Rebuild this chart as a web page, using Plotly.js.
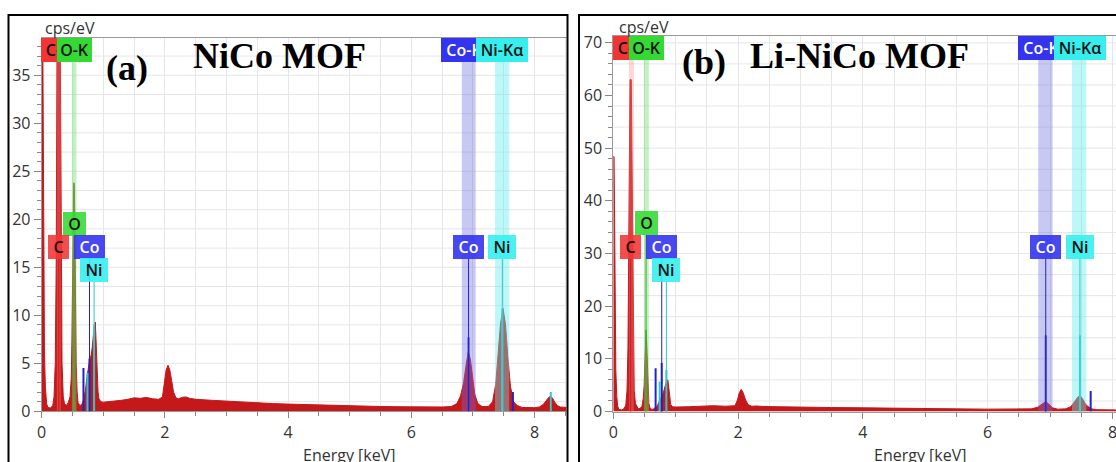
<!DOCTYPE html>
<html><head><meta charset="utf-8">
<script src="https://cdn.plot.ly/plotly-3.0.1.min.js"></script>
<style>html,body{margin:0;padding:0;background:#fff;overflow:hidden}#chart{width:1116px;height:462px}</style>
</head><body><div id="chart"></div>
<script>
// ---------------- DATA ----------------
// Panel (a) NiCo MOF spectrum: energy (keV) and intensity (cps/eV)
const aEnergy = [0,0.01,0.02,0.03,0.045,0.06,0.08,0.1,0.14,0.18,0.2,0.22,0.235,0.25,0.27,0.285,0.3,0.315,0.33,0.35,0.37,0.4,0.43,0.46,0.48,0.49,0.5,0.51,0.52,0.53,0.54,0.55,0.56,0.575,0.59,0.62,0.65,0.68,0.71,0.74,0.76,0.78,0.8,0.82,0.84,0.855,0.87,0.885,0.9,0.915,0.93,0.96,1.0,1.1,1.2,1.3,1.4,1.5,1.6,1.7,1.8,1.9,1.96,1.99,2.02,2.05,2.08,2.11,2.14,2.18,2.22,2.28,2.34,2.4,2.5,2.75,3.0,3.25,3.5,3.75,4.0,4.25,4.5,4.75,5.0,5.25,5.5,5.75,6.0,6.25,6.5,6.65,6.74,6.8,6.85,6.89,6.925,6.96,6.99,7.03,7.08,7.15,7.25,7.32,7.37,7.41,7.45,7.49,7.53,7.57,7.61,7.66,7.72,7.8,7.9,8.0,8.08,8.14,8.19,8.23,8.26,8.29,8.33,8.37,8.42,8.52];
const aCps = [60,60,40,18,6,2.5,0.8,0.4,0.35,0.6,1.5,5,15,40,60,60,40,15,5,1.5,0.8,0.6,0.9,1.5,3.5,7,12,19,23.8,23.5,18,10,5,2,0.9,0.6,0.7,1.2,2.2,3.8,4.8,5.4,5.8,6.6,8.0,9.0,9.3,7.0,4.0,2.0,1.3,1.0,0.95,1.0,1.05,1.15,1.25,1.4,1.35,1.45,1.3,1.25,1.5,2.8,4.3,4.8,4.3,3.2,2.0,1.4,1.3,1.45,1.5,1.35,1.25,1.15,1.05,0.95,0.85,0.8,0.75,0.7,0.65,0.6,0.58,0.55,0.5,0.48,0.46,0.45,0.45,0.5,0.8,1.6,3.0,4.8,6.2,5.4,3.6,1.8,0.8,0.5,0.5,1.0,2.8,5.8,9.2,10.7,9.0,5.5,2.6,1.0,0.6,0.4,0.38,0.38,0.45,0.7,1.1,1.45,1.55,1.4,0.95,0.6,0.45,0.4];

// Panel (b) Li-NiCo MOF spectrum
const bEnergy = [0,0.012,0.022,0.03,0.04,0.055,0.07,0.09,0.13,0.17,0.2,0.22,0.235,0.25,0.268,0.288,0.305,0.32,0.335,0.355,0.38,0.4,0.43,0.46,0.48,0.495,0.505,0.515,0.525,0.535,0.545,0.555,0.57,0.59,0.62,0.65,0.68,0.71,0.74,0.77,0.8,0.83,0.855,0.875,0.89,0.905,0.92,0.95,1.0,1.2,1.4,1.6,1.8,1.95,1.99,2.02,2.05,2.08,2.12,2.16,2.22,2.3,2.4,2.6,3.0,3.5,4.0,4.5,5.0,5.5,6.0,6.5,6.7,6.8,6.87,6.93,6.98,7.04,7.12,7.25,7.33,7.4,7.45,7.48,7.52,7.58,7.66,7.75,7.9,8.06];
const bCps = [48.4,48.4,35,20,8,3,1,0.4,0.3,0.5,1.2,4,12,35,63,63,35,12,4,1.5,0.8,0.5,0.6,1.0,2.5,5,9,12.5,15.5,13,8,4,1.5,0.6,0.4,0.5,0.8,1.2,2.0,2.8,3.5,4.8,5.8,6.0,4.5,2.5,1.3,0.9,0.85,0.9,1.0,1.1,1.0,1.1,2.2,3.6,4.2,3.6,2.2,1.3,1.0,1.05,0.95,0.9,0.85,0.75,0.7,0.6,0.55,0.5,0.45,0.45,0.5,0.8,1.4,1.9,1.4,0.7,0.45,0.5,0.9,1.9,2.8,3.0,2.4,1.2,0.5,0.35,0.3,0.3];

// Element line markers (energy keV, height cps/eV)
const aCoLineE = [0.678,0.776,6.93,7.65],  aCoLineH = [4.5,5.5,7.7,2.0];
const aNiLineE = [0.743,0.851,7.478,8.265], aNiLineH = [4.0,9.0,10.7,2.0];
const aOLineE = [0.525], aOLineH = [23.8];
const bCoLineE = [0.678,0.776,6.93,7.65],  bCoLineH = [8.2,9.2,14.5,3.9];
const bNiLineE = [0.743,0.851,7.478], bNiLineH = [5.7,7.9,14.5];
const bOLineE = [0.525], bOLineH = [15.5];

// Element labels
const lowLabels = ['O','C','Co','Ni','Co','Ni'];
const lowLabelE = [0.525,0.277,0.776,0.851,6.93,7.478];
const topLabels = ['C-K','O-K','Co-Kα','Ni-Kα'];
const topLabelE = [0.277,0.525,6.93,7.478];
const topLabelEl = ['C','O','Co','Ni'];

// Tick labels
const xTickVals = [0,2,4,6,8];
const aYTickVals = [0,5,10,15,20,25,30,35];
const bYTickVals = [0,10,20,30,40,50,60,70];

const panelTitles = ['(a)','NiCo MOF','(b)','Li-NiCo MOF'];
const yTitle = 'cps/eV', xTitle = 'Energy [keV]';

// ---------------- LAYOUT / STYLE ----------------
const W = 1116, H = 462;
const px = v => v / W, py = v => 1 - v / H;
const FONT = 'Open Sans, Noto Sans, sans-serif';
const SPEC = 'rgb(196,24,26)';
const EL = {
  C:  {box:'rgba(242,52,52,0.88)',  txt:'#111', line:'#d81818', band:'rgba(255,140,140,0.35)', w:21, lw:1},
  O:  {box:'rgba(52,218,52,0.88)',  txt:'#111', line:'#3aaa2a', band:'rgba(110,225,110,0.42)', w:23, lw:1},
  Co: {box:'rgba(52,52,238,0.90)',  txt:'#fff', line:'#2222cc', band:'rgba(110,110,230,0.38)', w:31, lw:2},
  Ni: {box:'rgba(55,238,238,0.90)', txt:'#111', line:'#30c8c8', band:'rgba(100,235,235,0.42)', w:28, lw:2}
};
const lowRow = [0,1,1,2,1,1];
const topW = {C:36, O:35, Co:56, Ni:52};

const P = [
  {x:'x', y:'y', xd:[41.7,566.5], bottom:411.3, top:38.3, xr:[0,8.52], yr:[0,38.85],
   ytick:aYTickVals, minorY:1, gridY0:1, gridDY:2, rows:[212,235,258], topRow:38.3,
   E:aEnergy, V:aCps, co:[aCoLineE,aCoLineH], ni:[aNiLineE,aNiLineH], o:[aOLineE,aOLineH],
   bands:{C:[0.245,0.31], O:[0.49,0.565], Co:[6.82,7.045], Ni:[7.36,7.59]},
   t1:[127,68], t2:[279,56], ylab:[69.5,28], xlab:[349,455], frame:[8.5,567.5]},
  {x:'x2', y:'y2', xd:[613.3,1116], bottom:411.5, top:36, xr:[0,8.056], yr:[0,71.3],
   ytick:bYTickVals, minorY:2, gridY0:2, gridDY:4, rows:[211,234.5,257.5], topRow:36,
   E:bEnergy, V:bCps, co:[bCoLineE,bCoLineH], ni:[bNiLineE,bNiLineH], o:[bOLineE,bOLineH],
   bands:{C:[0.25,0.33], O:[0.49,0.57], Co:[6.81,7.04], Ni:[7.35,7.58]},
   t1:[704,62], t2:[860,56], ylab:[644,27], xlab:[920,455], frame:[579,1130]}
];

const traces = [], shapes = [], annotations = [];
const layout = {
  width:W, height:H, margin:{l:0,r:0,t:0,b:0}, showlegend:false,
  paper_bgcolor:'#fff', plot_bgcolor:'#fff', hovermode:false, font:{family:FONT}
};

P.forEach((p, i) => {
  const xa = i === 0 ? 'xaxis' : 'xaxis2', ya = i === 0 ? 'yaxis' : 'yaxis2';
  layout[xa] = {
    domain:[px(p.xd[0]), px(p.xd[1])], anchor:p.y, range:p.xr, fixedrange:true,
    tickmode:'array', tickvals:xTickVals, ticks:'outside', ticklen:6, tickcolor:'#888',
    showline:true, linecolor:'#999', mirror:true, zeroline:false, ticklabeloverflow:'allow',
    showgrid:true, gridcolor:'#e6e6e6', gridwidth:1,
    minor:{dtick:0.5, tick0:0, ticks:'outside', ticklen:4, tickcolor:'#888', showgrid:true, gridcolor:'#e6e6e6'},
    tickfont:{family:FONT, size:16, color:'#333'}
  };
  layout[ya] = {
    domain:[py(p.bottom), py(p.top)], anchor:p.x, range:p.yr, fixedrange:true,
    tickmode:'array', tickvals:p.ytick, ticks:'outside', ticklen:7, tickcolor:'#888',
    showline:true, linecolor:'#999', zeroline:false, showgrid:false,
    minor:{dtick:p.minorY, tick0:0, ticks:'outside', ticklen:4, tickcolor:'#888', showgrid:false},
    tickfont:{family:FONT, size:16, color:'#333'}
  };
  // horizontal grid
  for (let g = p.gridY0; g < p.yr[1]; g += p.gridDY) {
    shapes.push({type:'line', xref:p.x+' domain', yref:p.y, x0:0, x1:1, y0:g, y1:g, layer:'below', line:{color:'#e6e6e6', width:1}});
  }
  // spectrum
  traces.push({type:'scatter', mode:'lines', x:p.E, y:p.V, xaxis:p.x, yaxis:p.y, fill:'tozeroy',
    fillcolor:SPEC, line:{color:SPEC, width:1}, cliponaxis:true});
  // element lines (heights)
  const addLines = (arr, s) => {
    const xs = [], ys = [];
    arr[0].forEach((e, k) => { xs.push(e, e, null); ys.push(0, arr[1][k], null); });
    traces.push({type:'scatter', mode:'lines', x:xs, y:ys, xaxis:p.x, yaxis:p.y, line:{color:s.line, width:s.lw}});
  };
  addLines(p.o, EL.O);
  addLines(p.co, EL.Co);
  addLines(p.ni, EL.Ni);
  // bands
  Object.keys(p.bands).forEach(k => {
    shapes.push({type:'rect', xref:p.x, yref:p.y+' domain', x0:p.bands[k][0], x1:p.bands[k][1], y0:0, y1:1,
      layer:'above', line:{width:0}, fillcolor:EL[k].band});
  });
  // low labels with connectors
  lowLabels.forEach((t, k) => {
    const s = EL[t], rowTop = p.rows[lowRow[k]];
    if (lowLabelE[k] > p.xr[1]) return;
    shapes.push({type:'line', xref:p.x, yref:'paper', x0:lowLabelE[k], x1:lowLabelE[k], y0:py(p.bottom), y1:py(rowTop+24),
      layer:'above', line:{color:s.line, width:1}});
    annotations.push({xref:p.x, yref:'paper', x:lowLabelE[k], y:py(rowTop), xanchor:'center', yanchor:'top',
      text:t, showarrow:false, bgcolor:s.box, width:s.w, height:24, borderpad:0, borderwidth:0,
      font:{family:FONT, size:16, color:s.txt, weight:600}});
  });
  // top labels
  topLabels.forEach((t, k) => {
    const s = EL[topLabelEl[k]];
    annotations.push({xref:p.x, yref:'paper', x:topLabelE[k], y:py(p.topRow), xanchor:'center', yanchor:'top',
      text:t, showarrow:false, bgcolor:s.box.replace(/0\.\d+\)$/, '1)'), width:topW[topLabelEl[k]], height:24, borderpad:0, borderwidth:0,
      font:{family:FONT, size:16, color:s.txt, weight:600}});
  });
  // titles
  annotations.push({xref:'paper', yref:'paper', x:px(p.t1[0]), y:py(p.t1[1]), xanchor:'center', yanchor:'middle',
    text:'<b>'+panelTitles[i*2]+'</b>', showarrow:false, font:{family:'Liberation Serif, Times New Roman, serif', size:36, color:'#000'}});
  annotations.push({xref:'paper', yref:'paper', x:px(p.t2[0]), y:py(p.t2[1]), xanchor:'center', yanchor:'middle',
    text:'<b>'+panelTitles[i*2+1]+'</b>', showarrow:false, font:{family:'Liberation Serif, Times New Roman, serif', size:36, color:'#000'}});
  annotations.push({xref:'paper', yref:'paper', x:px(p.ylab[0]), y:py(p.ylab[1]), xanchor:'center', yanchor:'middle',
    text:yTitle, showarrow:false, font:{family:FONT, size:16, color:'#333'}});
  annotations.push({xref:'paper', yref:'paper', x:px(p.xlab[0]), y:py(p.xlab[1]), xanchor:'center', yanchor:'middle',
    text:xTitle, showarrow:false, font:{family:FONT, size:16, color:'#333'}});
  // outer frame
  shapes.push({type:'rect', xref:'paper', yref:'paper', x0:px(p.frame[0]), x1:px(p.frame[1]), y0:-0.2, y1:py(15),
    layer:'above', line:{color:'#000', width:2}, fillcolor:'rgba(0,0,0,0)'});
});

layout.shapes = shapes;
layout.annotations = annotations;
Plotly.newPlot('chart', traces, layout, {staticPlot:true, displayModeBar:false});
</script></body></html>
